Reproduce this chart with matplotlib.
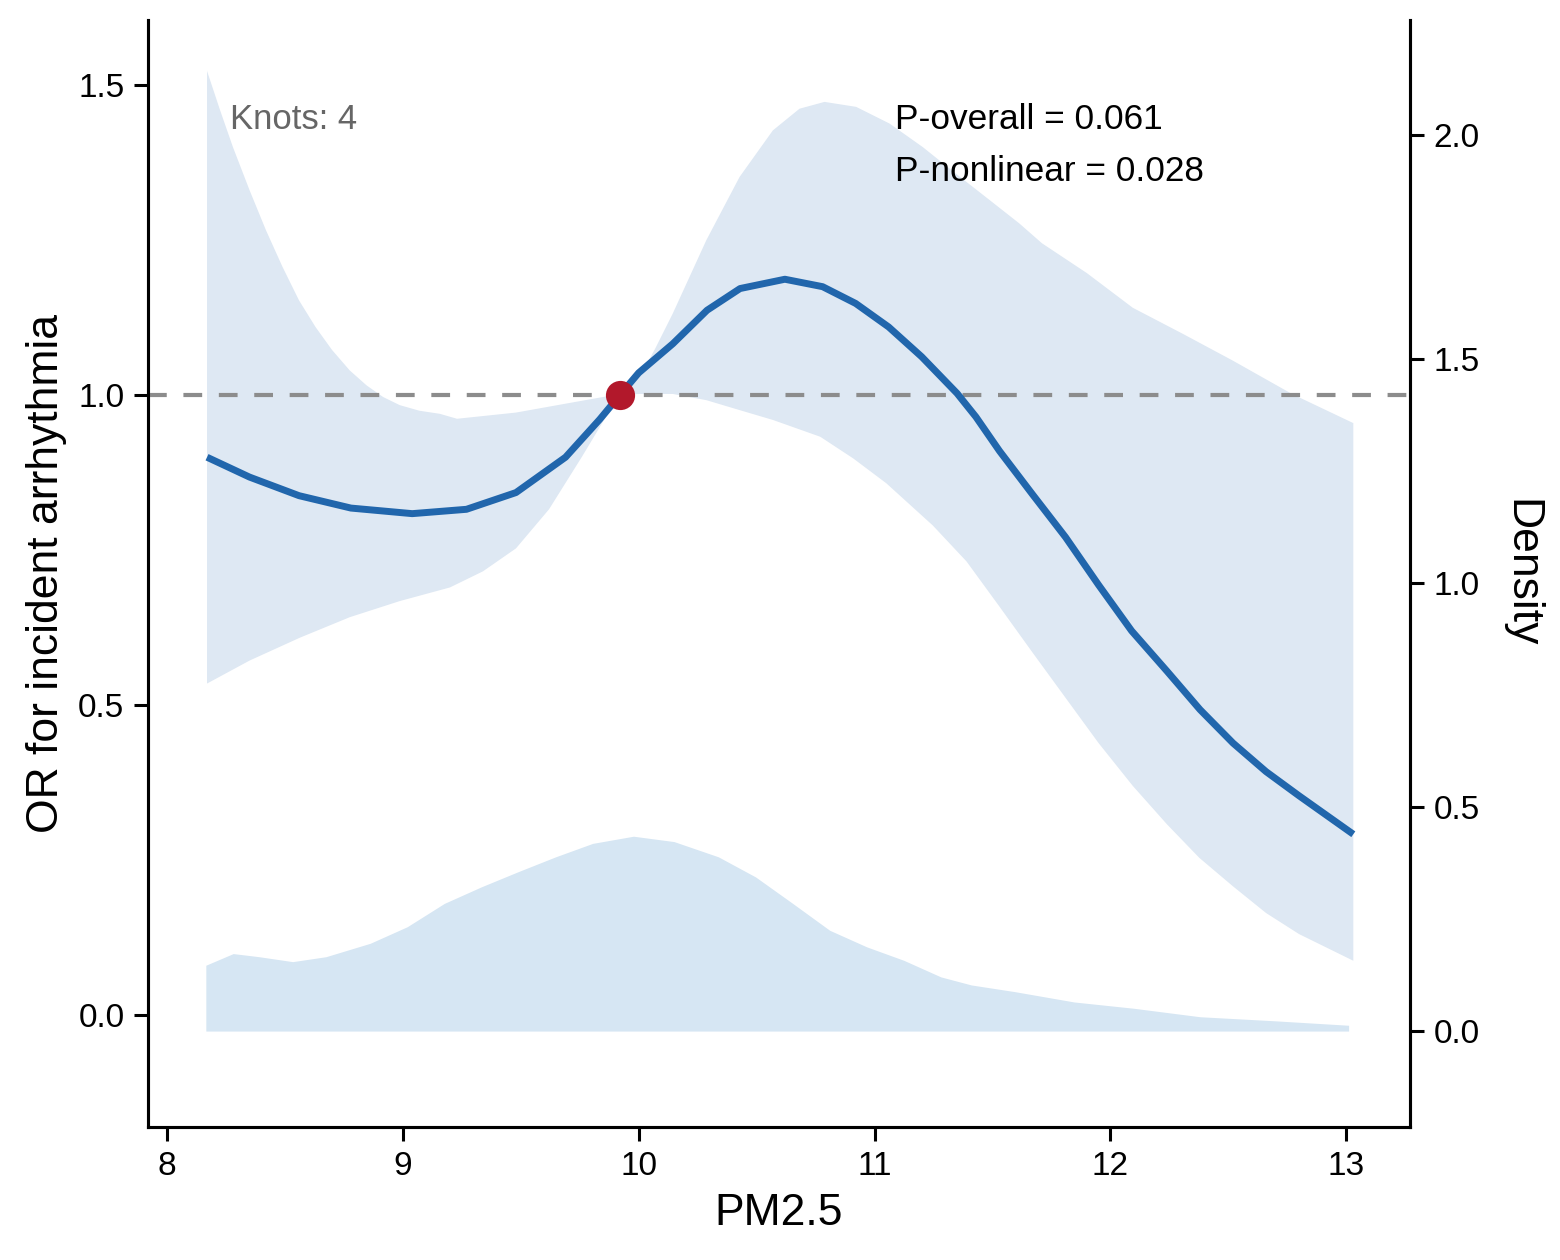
import matplotlib
matplotlib.use("Agg")
import matplotlib.pyplot as plt

plt.rcParams['font.family'] = ['Liberation Sans', 'DejaVu Sans']

# spline estimate (OR)
or_x = [8.17, 8.35, 8.56, 8.78, 9.04, 9.27, 9.48, 9.69, 9.835, 9.92, 10.00,
        10.145, 10.29, 10.43, 10.62, 10.78, 10.92, 11.06, 11.20, 11.35, 11.43,
        11.53, 11.67, 11.81, 11.95, 12.09, 12.24, 12.38, 12.52, 12.66, 12.80, 13.03]
or_y = [0.900, 0.868, 0.838, 0.818, 0.809, 0.816, 0.843, 0.900, 0.961, 1.000,
        1.036, 1.083, 1.137, 1.172, 1.187, 1.175, 1.148, 1.110, 1.062, 1.003,
        0.965, 0.910, 0.840, 0.771, 0.694, 0.620, 0.555, 0.493, 0.439, 0.393,
        0.354, 0.292]

# upper confidence limit
up_x = [8.17, 8.225, 8.28, 8.35, 8.42, 8.49, 8.56, 8.63, 8.70, 8.775, 8.846,
        8.917, 8.987, 9.07, 9.157, 9.23, 9.48, 9.70, 9.877, 9.92, 10.004, 10.07,
        10.145, 10.287, 10.428, 10.569, 10.682, 10.788, 10.922, 11.064, 11.205,
        11.346, 11.487, 11.614, 11.71, 11.90, 12.095, 12.307, 12.518, 12.77, 13.03]
up_y = [1.523, 1.460, 1.400, 1.331, 1.266, 1.207, 1.153, 1.110, 1.073, 1.040,
        1.016, 0.997, 0.984, 0.975, 0.970, 0.962, 0.972, 0.987, 0.999, 1.000,
        1.030, 1.075, 1.132, 1.250, 1.352, 1.427, 1.462, 1.473, 1.465, 1.438,
        1.400, 1.357, 1.315, 1.277, 1.245, 1.197, 1.141, 1.099, 1.056, 1.002,
        0.955]

# lower confidence limit
lo_x = [8.17, 8.35, 8.564, 8.775, 8.987, 9.20, 9.34, 9.48, 9.62, 9.76, 9.877,
        9.92, 10.00, 10.145, 10.287, 10.428, 10.57, 10.77, 10.91, 11.05, 11.247,
        11.39, 11.53, 11.67, 11.81, 11.95, 12.095, 12.24, 12.377, 12.52, 12.66,
        12.80, 13.03]
lo_y = [0.535, 0.572, 0.609, 0.642, 0.668, 0.690, 0.716, 0.753, 0.816, 0.901,
        0.975, 1.000, 1.002, 1.002, 0.992, 0.976, 0.960, 0.933, 0.898, 0.858,
        0.790, 0.732, 0.659, 0.585, 0.512, 0.439, 0.370, 0.308, 0.254, 0.208,
        0.165, 0.131, 0.088]

# exposure density (right axis)
dens_x = [8.165, 8.281, 8.391, 8.533, 8.674, 8.862, 9.019, 9.176, 9.333, 9.49,
          9.648, 9.805, 9.978, 10.15, 10.338, 10.496, 10.653, 10.81, 10.967,
          11.124, 11.281, 11.41, 11.595, 11.846, 12.098, 12.38, 12.695, 13.01]
dens_y = [0.147, 0.173, 0.166, 0.155, 0.166, 0.196, 0.233, 0.285, 0.322, 0.356,
          0.389, 0.419, 0.435, 0.423, 0.389, 0.344, 0.285, 0.225, 0.188, 0.158,
          0.121, 0.103, 0.088, 0.065, 0.051, 0.032, 0.023, 0.013]

ref_x, ref_y = 9.92, 1.0
knots = 4
p_overall = 0.061
p_nonlinear = 0.028

fig = plt.figure(figsize=(7.8, 6.3), dpi=200)
ax = fig.add_axes([0.0949, 0.1056, 0.8089, 0.8785])
ax2 = ax.twinx()

ax2.fill_between(dens_x, 0, dens_y, color='#d6e6f3', lw=0)
ax2.set_ylim(-0.214, 2.257)
ax2.set_yticks([0.0, 0.5, 1.0, 1.5, 2.0])
ax2.set_ylabel('Density', fontsize=16, rotation=270, labelpad=22)

ax.set_zorder(ax2.get_zorder() + 1)
ax.patch.set_visible(False)

ax.fill(up_x + lo_x[::-1], up_y + lo_y[::-1], color='#dee8f3', lw=0)
ax.axhline(1.0, color='#8c8c8c', lw=1.5, ls=(0, (4.5, 4)), zorder=2)
ax.plot(or_x, or_y, color='#2166ac', lw=2.5, solid_capstyle='butt',
        solid_joinstyle='round', zorder=3)
ax.plot([ref_x], [ref_y], 'o', color='#b2182b', ms=9.5, zorder=4)

ax.set_xlim(7.92, 13.27)
ax.set_ylim(-0.18, 1.605)
ax.set_xticks([8, 9, 10, 11, 12, 13])
ax.set_yticks([0.0, 0.5, 1.0, 1.5])
ax.set_xlabel('PM2.5', fontsize=16)
ax.set_ylabel('OR for incident arrhythmia', fontsize=16)

ax.text(0.065, 0.91, f'Knots: {knots}', transform=ax.transAxes,
        fontsize=12.5, color='#666666', va='center')
ax.text(0.592, 0.91, f'P-overall = {p_overall:.3f}', transform=ax.transAxes,
        fontsize=12.7, va='center')
ax.text(0.592, 0.863, f'P-nonlinear = {p_nonlinear:.3f}', transform=ax.transAxes,
        fontsize=12.7, va='center')

for a in (ax, ax2):
    a.spines['top'].set_visible(False)
    for s in a.spines.values():
        s.set_linewidth(1.1)
    a.tick_params(labelsize=12, width=1.1, length=5)

fig.savefig('out.png', dpi=200)
